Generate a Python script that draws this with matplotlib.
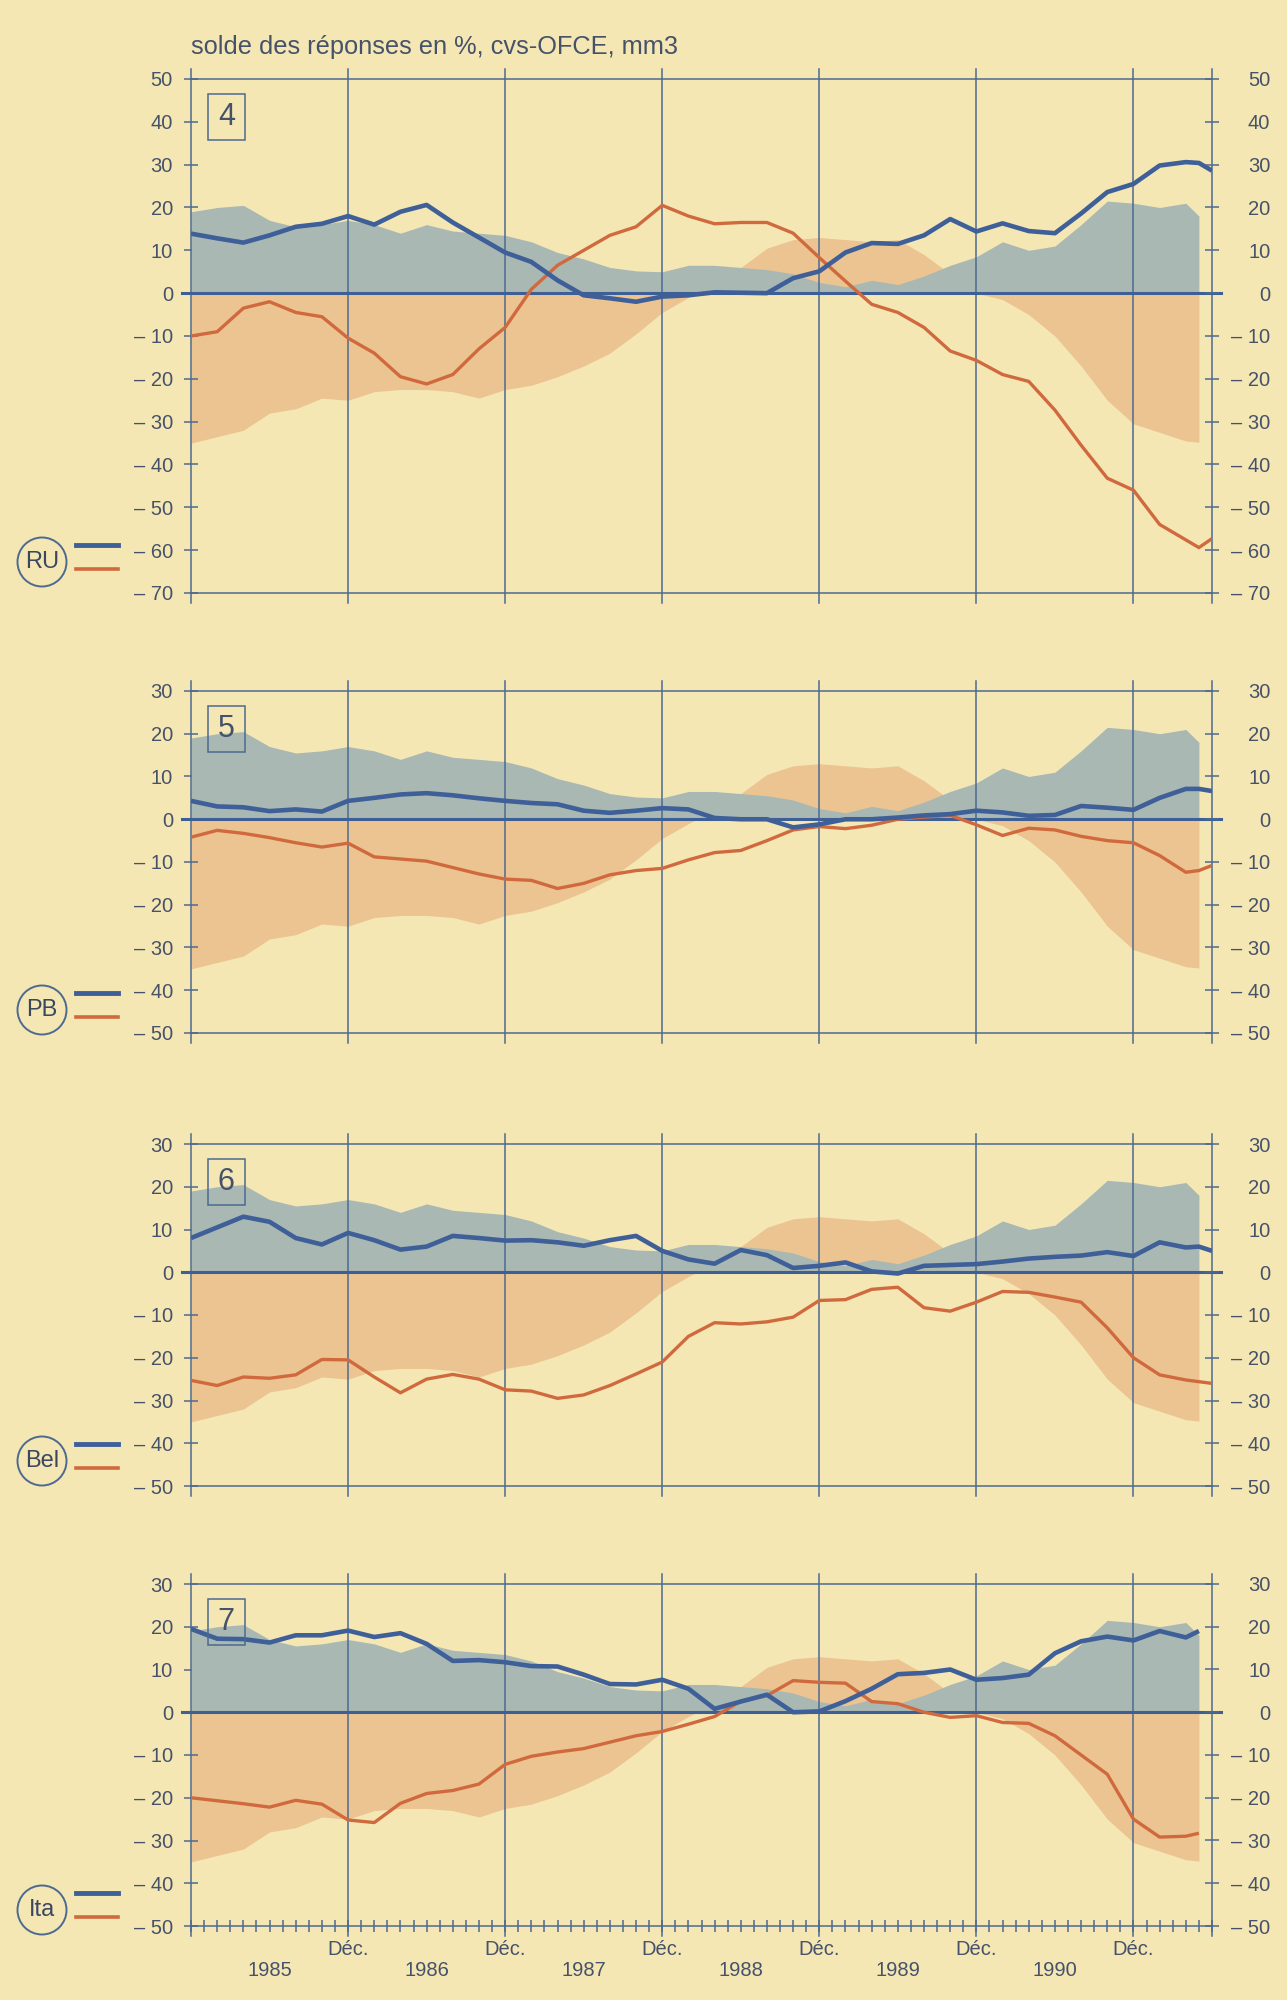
import matplotlib
matplotlib.use("Agg")
import matplotlib.pyplot as plt
from matplotlib.patches import Circle, Rectangle
from matplotlib.lines import Line2D

plt.rcParams['font.family'] = ['Liberation Sans Narrow', 'Liberation Sans', 'DejaVu Sans']

W, H = 1287, 2000

# months counted from January 1985 (= 0); "Déc." lines sit at 12, 24, ... 72
m_even = list(range(0, 77, 2))
months_band = m_even + [77]
months_line = m_even + [77, 78]
months_ita = m_even + [77]

# shaded background (same in every panel)
band_blue = [19, 20, 20.5, 17, 15.5, 16, 17, 16, 14, 16, 14.5, 14, 13.5, 12, 9.5, 8, 6, 5.2, 5, 6.5,
             6.5, 6, 5.5, 4.5, 2.5, 1.5, 3, 2, 4, 6.5, 8.5, 12, 10, 11, 16, 21.5, 21, 20, 21, 18]
band_orange = [-35, -33.5, -32, -28, -27, -24.5, -25, -23, -22.5, -22.5, -23, -24.5, -22.5, -21.5,
               -19.5, -17, -14, -9.5, -4.5, -1, 2, 6, 10.5, 12.5, 13, 12.5, 12, 12.5, 9, 4.5, 0,
               -1.5, -5, -10, -17, -25, -30.5, -32.5, -34.5, -34.8]

ru_blue = [13.9, 12.8, 11.8, 13.5, 15.5, 16.2, 18, 16, 19, 20.6, 16.5, 13, 9.5, 7.3, 3, -0.5, -1.2,
           -2, -0.8, -0.5, 0.2, 0.1, 0, 3.5, 5.1, 9.5, 11.7, 11.5, 13.5, 17.3, 14.4, 16.3, 14.5, 14,
           18.6, 23.6, 25.5, 29.8, 30.6, 30.4, 28.6]
ru_orange = [-10, -9, -3.5, -2, -4.5, -5.5, -10.5, -14, -19.5, -21.2, -19, -13, -8, 0.9, 6.5, 10,
             13.5, 15.5, 20.5, 18, 16.2, 16.5, 16.5, 14, 8.3, 2.8, -2.6, -4.5, -8, -13.5, -15.7, -19,
             -20.6, -27.3, -35.5, -43.2, -46, -54, -57.6, -59.4, -57.3]

pb_blue = [4.3, 3, 2.8, 1.9, 2.3, 1.8, 4.3, 5, 5.8, 6.1, 5.6, 4.9, 4.3, 3.8, 3.5, 2, 1.5, 2, 2.6,
           2.3, 0.3, 0, 0, -1.9, -1.2, 0, 0, 0.4, 0.9, 1.2, 2, 1.6, 0.8, 1, 3.1, 2.7, 2.2, 5, 7.1,
           7.1, 6.6]
pb_orange = [-4.2, -2.6, -3.3, -4.3, -5.5, -6.5, -5.6, -8.8, -9.3, -9.8, -11.3, -12.8, -14, -14.3,
             -16.2, -15, -13, -12, -11.5, -9.5, -7.8, -7.3, -5, -2.5, -1.7, -2.2, -1.4, 0, 0.5, 0.9,
             -1.3, -3.8, -2.1, -2.5, -4, -5, -5.5, -8.5, -12.4, -12, -10.8]

bel_blue = [8, 10.5, 13, 11.8, 8, 6.5, 9.2, 7.5, 5.3, 6, 8.5, 8, 7.4, 7.5, 7, 6.2, 7.5, 8.5, 5, 3,
            2, 5.2, 4, 1, 1.5, 2.3, 0.2, -0.3, 1.5, 1.7, 1.9, 2.5, 3.2, 3.6, 3.9, 4.7, 3.8, 7, 5.8,
            6, 5]
bel_orange = [-25.3, -26.5, -24.5, -24.8, -24, -20.4, -20.5, -24.5, -28.2, -25, -23.9, -25, -27.5,
              -27.8, -29.5, -28.7, -26.5, -23.8, -21, -15, -11.8, -12.1, -11.6, -10.5, -6.6, -6.4,
              -4, -3.5, -8.3, -9.1, -7, -4.5, -4.7, -5.8, -7, -13, -20, -24, -25.2, -25.6, -26]

ita_blue = [19.5, 17.2, 17.1, 16.3, 18, 18, 19.1, 17.6, 18.5, 16, 12, 12.2, 11.7, 10.8, 10.7, 8.8,
            6.6, 6.5, 7.6, 5.5, 0.8, 2.5, 4.1, 0, 0.2, 2.6, 5.5, 8.9, 9.2, 10, 7.6, 8, 8.8, 13.8,
            16.6, 17.7, 16.8, 19, 17.5, 19]
ita_orange = [-20, -20.7, -21.4, -22.2, -20.6, -21.5, -25.2, -25.8, -21.3, -19, -18.3, -16.8, -12.2,
              -10.3, -9.3, -8.5, -7, -5.5, -4.5, -2.8, -1, 2.6, 3.9, 7.4, 7, 6.8, 2.5, 2, 0, -1.2,
              -0.8, -2.4, -2.6, -5.5, -10, -14.5, -25, -29.2, -29, -28.3]

dec_pos = [12, 24, 36, 48, 60, 72]
years = ["1985", "1986", "1987", "1988", "1989", "1990"]

BG = '#F4E7B4'
BAND_BLUE = '#A9B8B2'
BAND_ORANGE = '#EBC491'
LINE_BLUE = '#3F5F99'
LINE_ORANGE = '#D06A3E'
AXIS = '#4C6A90'
ZERO = '#3E5F95'
TEXT = '#46526A'


def fmt(v):
    return "\u2013 %d" % abs(v) if v < 0 else "%d" % v


panels = [
    dict(name="RU", num="4", top=79, bot=593, ylim=(-70, 50), xb=months_line, blue=ru_blue,
         xo=months_line, orange=ru_orange, leg=562),
    dict(name="PB", num="5", top=691, bot=1033, ylim=(-50, 30), xb=months_line, blue=pb_blue,
         xo=months_line, orange=pb_orange, leg=1010),
    dict(name="Bel", num="6", top=1144, bot=1486, ylim=(-50, 30), xb=months_line, blue=bel_blue,
         xo=months_line, orange=bel_orange, leg=1461),
    dict(name="Ita", num="7", top=1584, bot=1926, ylim=(-50, 30), xb=months_ita, blue=ita_blue,
         xo=months_ita, orange=ita_orange, leg=1910),
]

fig = plt.figure(figsize=(W / 100, H / 100), dpi=100)
fig.patch.set_facecolor(BG)

fig.text(191 / W, 1 - 47 / H, "solde des réponses en %, cvs-OFCE, mm3", ha='left', va='center',
         fontsize=18.3, color=TEXT, family=['Liberation Sans', 'DejaVu Sans'])

for i, p in enumerate(panels):
    top, bot = p['top'], p['bot']
    ax = fig.add_axes([191 / W, 1 - bot / H, 1021 / W, (bot - top) / H])
    ax.set_facecolor('none')
    ax.set_xlim(0, 78)
    ymin, ymax = p['ylim']
    ax.set_ylim(ymin, ymax)

    ax.fill_between(months_band, 0, band_orange, color=BAND_ORANGE, lw=0, zorder=1)
    ax.fill_between(months_band, 0, band_blue, color=BAND_BLUE, lw=0, zorder=2)

    trans = ax.get_xaxis_transform()
    ext = 10 / (bot - top)
    for x in [0] + dec_pos + [78]:
        ax.plot([x, x], [-ext, 1 + ext], transform=trans, color=AXIS, lw=1.1,
                clip_on=False, zorder=3)
    ax.plot([-0.7, 78.7], [0, 0], color=ZERO, lw=2.2, clip_on=False, zorder=4)

    ax.plot(p['xo'], p['orange'], color=LINE_ORANGE, lw=2.4, zorder=5, solid_capstyle='butt')
    ax.plot(p['xb'], p['blue'], color=LINE_BLUE, lw=3.3, zorder=6, solid_capstyle='butt')

    for s in ['left', 'right']:
        ax.spines[s].set_visible(False)
    for s in ['top', 'bottom']:
        ax.spines[s].set_color(AXIS)
        ax.spines[s].set_linewidth(1.1)

    ticks = list(range(ymin, ymax + 1, 10))
    labels = [fmt(t) for t in ticks]
    ax.set_yticks(ticks)
    ax.set_yticklabels(labels)
    ax.tick_params(axis='y', direction='inout', length=10, width=1.1, color=AXIS,
                   labelcolor=TEXT, labelsize=14.5, pad=8)

    ax2 = ax.twinx()
    ax2.set_ylim(ymin, ymax)
    ax2.set_yticks(ticks)
    ax2.set_yticklabels(labels, ha='right')
    ax2.tick_params(axis='y', direction='inout', length=10, width=1.1, color=AXIS,
                    labelcolor=TEXT, labelsize=14.5, pad=37)
    for s in ax2.spines.values():
        s.set_visible(False)

    if i == len(panels) - 1:
        ax.set_xticks(range(0, 79))
        ax.set_xticklabels([])
        ax.tick_params(axis='x', direction='inout', length=8.5, width=1.1, color=AXIS)
        for x in dec_pos:
            ax.text(x, -0.07, "Déc.", transform=trans, ha='center', va='center',
                    fontsize=14.5, color=TEXT)
        for k, yr in enumerate(years):
            ax.text(6 + 12 * k, -0.129, yr, transform=trans, ha='center', va='center',
                    fontsize=14.5, color=TEXT)
    else:
        ax.set_xticks([])

    # boxed panel number
    ax.add_patch(Rectangle((1.3, ymax - 14.2), 2.8, 10.6, fill=False, ec=AXIS, lw=1.1, zorder=7))
    ax.text(2.7, ymax - 8.9, p['num'], ha='center', va='center', fontsize=22, color=TEXT,
            zorder=7, family=['Liberation Sans', 'DejaVu Sans'])

    # country key at the left
    leg = p['leg']
    fig.add_artist(Circle((42 / 100, (H - leg) / 100), 0.245, transform=fig.dpi_scale_trans,
                          fill=False, ec=AXIS, lw=1.4))
    fig.text(42 / W, 1 - leg / H, p['name'], ha='center', va='center', fontsize=17,
             color='#3B475F')
    fig.add_artist(Line2D([76 / W, 118 / W], [1 - (leg - 17) / H] * 2, color=LINE_BLUE, lw=3.5,
                          transform=fig.transFigure))
    fig.add_artist(Line2D([76 / W, 118 / W], [1 - (leg + 7) / H] * 2, color=LINE_ORANGE, lw=2.6,
                          transform=fig.transFigure))

fig.savefig("out.png", dpi=100, facecolor=BG)
